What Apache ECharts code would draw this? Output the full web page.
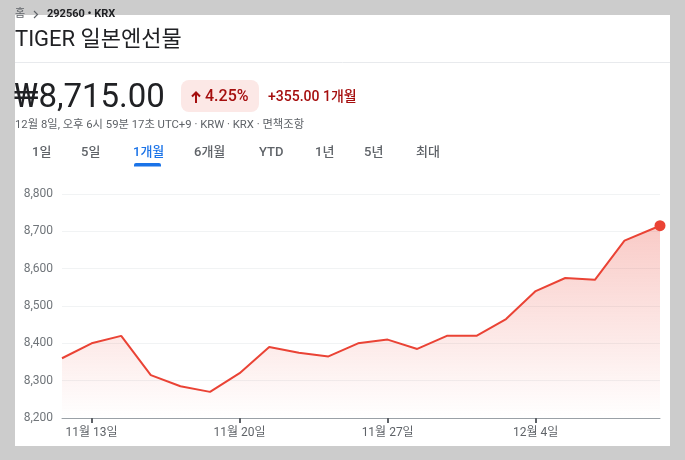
<!DOCTYPE html>
<html><head><meta charset="utf-8">
<script src="https://cdn.jsdelivr.net/npm/echarts@6/dist/echarts.min.js"></script>
<style>
html,body{margin:0;padding:0;background:#cccccc;}
#panel{position:absolute;left:15px;top:15px;width:655px;height:431px;background:#ffffff;}
#c{position:absolute;left:0;top:0;width:685px;height:460px;}
</style>
</head><body>
<div id="panel"></div>
<div id="c"></div>
<script>
// ---- data ----
const tradingDay = [0,1,2,3,4,5,6,7,8,9,10,11,12,13,14,15,16,17,18,19,20.2];
const prices = [8360,8400,8420,8315,8285,8270,8320,8390,8375,8365,8400,8410,8385,8420,8420,8465,8540,8575,8570,8675,8715];
const xTickDays = [1,6,11,16];
const xTickLabels = ['11월 13일','11월 20일','11월 27일','12월 4일'];
const yMin = 8200, yMax = 8800, yStep = 100;
const tabs = ['1일','5일','1개월','6개월','YTD','1년','5년','최대'];
const tabX = [32,81,133,194,259,315,364,416];
const activeTab = 2;

const FF = 'Roboto, "Noto Sans CJK KR", "Noto Sans", sans-serif';
const chart = echarts.init(document.getElementById('c'), null, {renderer:'canvas'});

const seriesData = tradingDay.map((d,i)=>[d, prices[i]]);
const last = prices.length - 1;

const g = [];
// breadcrumb
g.push({type:'text', style:{text:'홈', x:15, y:14, fill:'#5f6368', font:'11px '+FF, verticalAlign:'middle'}});
g.push({type:'polyline', shape:{points:[[34,11],[37.5,14.5],[34,18]]}, style:{stroke:'#5f6368', lineWidth:1.2, fill:null}});
g.push({type:'text', style:{text:'292560 • KRX', x:47, y:14, fill:'#202124', font:'bold 11px '+FF, verticalAlign:'middle'}});
// title
g.push({type:'text', style:{text:'TIGER 일본엔선물', x:15, y:40, fill:'#202124', font:'22px '+FF, verticalAlign:'middle'}});
g.push({type:'line', shape:{x1:15, y1:62.5, x2:670, y2:62.5}, style:{stroke:'#e8eaed', lineWidth:1}});
// price
g.push({type:'text', style:{text:'₩8,715.00', x:14, y:99, fill:'#202124', font:'33px '+FF, verticalAlign:'middle'}});
// badge
g.push({type:'rect', shape:{x:181, y:80, width:78, height:32, r:8}, style:{fill:'#fce8e6'}});
g.push({type:'polyline', shape:{points:[[196,103],[196,92.5]]}, style:{stroke:'#a50e0e', lineWidth:2, fill:null}});
g.push({type:'polyline', shape:{points:[[192,96.5],[196,92.5],[200,96.5]]}, style:{stroke:'#a50e0e', lineWidth:2, fill:null}});
g.push({type:'text', style:{text:'4.25%', x:205, y:97, fill:'#a50e0e', font:'500 16px '+FF, verticalAlign:'middle'}});
g.push({type:'text', style:{text:'+355.00 1개월', x:268, y:97, fill:'#a50e0e', font:'500 14px '+FF, verticalAlign:'middle'}});
// subtitle
g.push({type:'text', style:{text:'12월 8일, 오후 6시 59분 17초 UTC+9 · KRW · KRX · 면책조항', x:15, y:125, fill:'#5f6368', font:'11.3px '+FF, verticalAlign:'middle'}});
// tabs
tabs.forEach((t,i)=>{
  g.push({type:'text', style:{text:t, x:tabX[i], y:153, fill: i===activeTab ? '#1a73e8' : '#5f6368', font:'500 13px '+FF, verticalAlign:'middle'}});
});
g.push({type:'rect', shape:{x:134, y:163, width:27, height:3.5, r:[2,2,0,0]}, style:{fill:'#1a73e8'}});

chart.setOption({
  animation:false,
  backgroundColor:'transparent',
  textStyle:{fontFamily:FF},
  graphic: g,
  grid:{left:62, right:25, top:194, bottom:42, containLabel:false},
  xAxis:{
    type:'value', min:'dataMin', max:'dataMax',
    axisLine:{show:true, lineStyle:{color:'#9aa0a6', width:1}},
    axisTick:{show:true, customValues:xTickDays, length:5, lineStyle:{color:'#5f6368', width:2}},
    axisLabel:{show:true, customValues:xTickDays, margin:9, color:'#5f6368', fontSize:12, fontFamily:FF,
      formatter:(v)=>{const k = xTickDays.indexOf(Math.round(v)); return k>=0 ? xTickLabels[k] : '';}},
    splitLine:{show:false}
  },
  yAxis:{
    type:'value', min:yMin, max:yMax, interval:yStep,
    axisLine:{show:false}, axisTick:{show:false},
    axisLabel:{margin:9, color:'#70757a', fontSize:12, fontFamily:FF,
      formatter:(v)=>v.toLocaleString('en-US')},
    splitLine:{show:true, lineStyle:{color:'#f1f3f4', width:1}}
  },
  series:[{
    type:'line',
    data: seriesData,
    symbol:'circle',
    symbolSize:(v,p)=> p.dataIndex===last ? 11 : 0,
    showAllSymbol:true,
    lineStyle:{color:'#ea4335', width:2},
    itemStyle:{color:'#ea4335'},
    areaStyle:{color:new echarts.graphic.LinearGradient(0,0,0,1,[
      {offset:0, color:'rgba(234,67,53,0.40)'},
      {offset:1, color:'rgba(234,67,53,0.0)'}
    ])},
    z:3
  }]
});
</script>
</body></html>
